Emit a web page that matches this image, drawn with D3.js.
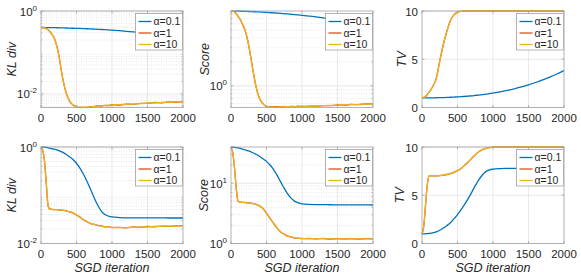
<!DOCTYPE html>
<html>
<head>
<meta charset="utf-8">
<script src="https://cdn.jsdelivr.net/npm/d3@7"></script>
<style>
  body { margin: 0; background: #fff; }
  svg { display: block; font-family: "Liberation Sans", Arial, sans-serif; }
</style>
</head>
<body>
<div class="js-vis"></div>
<script>
"use strict";

// SGD iteration sample points (shared by all series)
var iters = [0, 25, 50, 75, 100, 125, 150, 200, 250, 300, 350, 400, 450, 500, 550, 600, 650, 700,
  750, 800, 850, 900, 950, 1000, 1100, 1200, 1300, 1400, 1500, 1600, 1700, 1800, 1900, 2000];

// top row
var klTopA01 = [0.400, 0.400, 0.399, 0.399, 0.398, 0.397, 0.397, 0.395, 0.393, 0.391, 0.389, 0.387, 0.384,
  0.382, 0.379, 0.376, 0.373, 0.370, 0.366, 0.362, 0.358, 0.354, 0.349, 0.345, 0.335, 0.324, 0.312, 0.299,
  0.285, 0.270, 0.255, 0.240, 0.222, 0.205];
var klTopA1 = [0.400, 0.398, 0.390, 0.375, 0.355, 0.320, 0.285, 0.195, 0.088, 0.027, 0.0112, 0.0068, 0.0054,
  0.0049, 0.0047, 0.00475, 0.0047, 0.0049, 0.0049, 0.0052, 0.0051, 0.0053, 0.0052, 0.0055, 0.0054, 0.0057,
  0.0056, 0.0059, 0.0059, 0.0062, 0.0061, 0.0064, 0.0063, 0.0065];
var klTopA10 = [0.400, 0.398, 0.390, 0.375, 0.355, 0.320, 0.285, 0.195, 0.088, 0.027, 0.0112, 0.0068, 0.0054,
  0.0049, 0.0047, 0.0047, 0.0048, 0.0048, 0.0050, 0.0051, 0.0052, 0.0052, 0.0053, 0.0054, 0.0055, 0.0056,
  0.0057, 0.0058, 0.0060, 0.0061, 0.0062, 0.0063, 0.0064, 0.0064];

var scTopA01 = [8.66, 8.65, 8.64, 8.63, 8.62, 8.61, 8.60, 8.57, 8.54, 8.50, 8.46, 8.42, 8.37, 8.32, 8.27,
  8.21, 8.15, 8.09, 8.02, 7.95, 7.88, 7.81, 7.73, 7.65, 7.48, 7.30, 7.10, 6.88, 6.65, 6.40, 6.13, 5.85,
  5.55, 5.22];
var scTopA1 = [8.66, 8.60, 8.40, 8.00, 7.40, 6.90, 6.20, 4.90, 3.20, 1.75, 1.00, 0.70, 0.600, 0.555, 0.548,
  0.545, 0.550, 0.545, 0.553, 0.548, 0.554, 0.549, 0.556, 0.552, 0.558, 0.557, 0.567, 0.566, 0.576, 0.575,
  0.585, 0.583, 0.593, 0.597];
var scTopA10 = [8.66, 8.60, 8.40, 8.00, 7.40, 6.90, 6.20, 4.90, 3.20, 1.75, 1.00, 0.70, 0.600, 0.555, 0.545,
  0.540, 0.542, 0.545, 0.548, 0.550, 0.548, 0.550, 0.552, 0.550, 0.555, 0.560, 0.565, 0.570, 0.573, 0.578,
  0.582, 0.585, 0.590, 0.595];

var tvTopA01 = [1.00, 1.00, 1.00, 1.00, 1.00, 1.00, 1.00, 1.01, 1.02, 1.03, 1.04, 1.06, 1.08, 1.10, 1.12,
  1.15, 1.18, 1.21, 1.25, 1.29, 1.33, 1.38, 1.43, 1.49, 1.62, 1.77, 1.94, 2.13, 2.35, 2.59, 2.86, 3.15,
  3.47, 3.82];
var tvTopA10 = [1.00, 1.05, 1.15, 1.35, 1.60, 1.85, 2.15, 3.00, 4.80, 6.50, 7.90, 9.00, 9.60, 9.88, 9.97,
  10, 10, 10, 10, 10, 10, 10, 10, 10, 10, 10, 10, 10, 10, 10, 10, 10, 10, 10];
var tvTopA1 = tvTopA10;

// bottom row
var klBotA01 = [1.000, 0.998, 0.990, 0.980, 0.960, 0.945, 0.930, 0.890, 0.840, 0.780, 0.710, 0.630, 0.550,
  0.460, 0.360, 0.270, 0.190, 0.130, 0.088, 0.062, 0.047, 0.040, 0.037, 0.0355, 0.0345, 0.0340, 0.0340,
  0.0340, 0.0339, 0.0339, 0.0339, 0.0338, 0.0338, 0.0338];
var klBotA1 = [1.000, 0.850, 0.500, 0.170, 0.060, 0.052, 0.0512, 0.0503, 0.0501, 0.0488, 0.0478, 0.0452,
  0.0432, 0.0388, 0.0352, 0.0308, 0.0282, 0.0258, 0.0250, 0.0236, 0.0232, 0.0222, 0.0223, 0.0214, 0.0216,
  0.0211, 0.0220, 0.0215, 0.0225, 0.0222, 0.0230, 0.0226, 0.0232, 0.0234];
var klBotA10 = [1.000, 0.850, 0.500, 0.170, 0.060, 0.052, 0.0510, 0.0505, 0.0500, 0.0490, 0.0475, 0.0455,
  0.0430, 0.0390, 0.0350, 0.0310, 0.0280, 0.0260, 0.0248, 0.0238, 0.0230, 0.0224, 0.0220, 0.0216, 0.0213,
  0.0214, 0.0217, 0.0220, 0.0222, 0.0225, 0.0227, 0.0229, 0.0230, 0.0232];

var scBotA01 = [39.8, 39.6, 39.3, 38.9, 38.4, 37.8, 37.2, 35.8, 34.2, 32.3, 30.2, 28.0, 25.5, 23.0, 20.0,
  16.8, 13.5, 10.5, 8.2, 6.6, 5.6, 5.0, 4.7, 4.55, 4.45, 4.42, 4.40, 4.39, 4.38, 4.37, 4.37, 4.36, 4.36, 4.35];
var scBotA1 = [39.8, 32.0, 17.5, 8.0, 5.0, 4.85, 4.82, 4.78, 4.72, 4.62, 4.45, 4.20, 3.80, 3.20, 2.60,
  2.15, 1.80, 1.55, 1.43, 1.32, 1.29, 1.23, 1.23, 1.20, 1.21, 1.19, 1.21, 1.18, 1.20, 1.19, 1.20, 1.18, 1.20, 1.19];
var scBotA10 = [39.8, 32.0, 17.5, 8.0, 5.0, 4.85, 4.82, 4.78, 4.72, 4.62, 4.45, 4.20, 3.80, 3.20, 2.60,
  2.15, 1.80, 1.55, 1.42, 1.33, 1.28, 1.24, 1.22, 1.21, 1.20, 1.20, 1.20, 1.19, 1.19, 1.19, 1.19, 1.19, 1.19, 1.19];

var tvBotA01 = [1.00, 1.00, 1.01, 1.02, 1.04, 1.07, 1.10, 1.20, 1.37, 1.60, 1.85, 2.15, 2.55, 3.00, 3.50,
  4.05, 4.65, 5.30, 6.00, 6.60, 7.10, 7.45, 7.62, 7.70, 7.76, 7.78, 7.79, 7.80, 7.80, 7.80, 7.80, 7.80, 7.80, 7.80];
var tvBotA10 = [1.00, 1.80, 4.00, 6.10, 7.00, 7.02, 7.02, 7.02, 7.04, 7.08, 7.15, 7.25, 7.38, 7.55, 7.78,
  8.10, 8.45, 8.82, 9.20, 9.50, 9.72, 9.86, 9.94, 9.98, 10, 10, 10, 10, 10, 10, 10, 10, 10, 10];
var tvBotA1 = tvBotA10;

var xTicks = [0, 500, 1000, 1500, 2000];
var legendLabels = ["\u03b1=0.1", "\u03b1=1", "\u03b1=10"];
var colors = ["#0072BD", "#D95319", "#EDB120"];

var panels = [
  { col: 0, row: 0, ylab: "KL div", log: true, dom: [0.0047, 1], ticks: [0.01, 1], lab: 12, series: [klTopA01, klTopA1, klTopA10] },
  { col: 1, row: 0, ylab: "Score", log: true, dom: [0.536, 8.66], ticks: [1], lab: 205, series: [scTopA01, scTopA1, scTopA10] },
  { col: 2, row: 0, ylab: "TV", log: false, dom: [0, 10], ticks: [0, 5, 10], lab: 402, series: [tvTopA01, tvTopA1, tvTopA10] },
  { col: 0, row: 1, ylab: "KL div", log: true, dom: [0.01, 1], ticks: [0.01, 1], lab: 12, series: [klBotA01, klBotA1, klBotA10] },
  { col: 1, row: 1, ylab: "Score", log: true, dom: [1, 39.8], ticks: [1, 10], lab: 204, series: [scBotA01, scBotA1, scBotA10] },
  { col: 2, row: 1, ylab: "TV", log: false, dom: [0, 10], ticks: [0, 5, 10], lab: 400, series: [tvBotA01, tvBotA1, tvBotA10] }
];

var colX = [41, 231, 422], plotW = 142;
var rowY = [11, 147], plotH = 96.5;

var svg = d3.select(".js-vis").append("svg").attr("width", 581).attr("height", 275);

var axisCol = "#a0a0a0", textCol = "#262626", gridCol = "#e3e3e3";

panels.forEach(function (p) {
  var x0 = colX[p.col], y0 = rowY[p.row];
  var g = svg.append("g").attr("transform", "translate(" + x0 + "," + y0 + ")");

  var x = d3.scaleLinear().domain([0, 2000]).range([0, plotW]);
  var y = (p.log ? d3.scaleLog() : d3.scaleLinear()).domain(p.dom).range([plotH, 0]);

  // minor grid for log axes
  if (p.log) {
    var minors = [];
    var lo = Math.floor(Math.log10(p.dom[0])), hi = Math.ceil(Math.log10(p.dom[1]));
    for (var e = lo; e < hi; e++) {
      for (var k = 2; k <= 9; k++) {
        var v = k * Math.pow(10, e);
        if (v > p.dom[0] && v < p.dom[1]) minors.push(v);
      }
    }
    g.selectAll(".mg").data(minors).enter().append("line")
      .attr("x1", 0).attr("x2", plotW)
      .attr("y1", function (d) { return y(d); }).attr("y2", function (d) { return y(d); })
      .attr("stroke", "#dcdcdc").attr("stroke-width", 0.7).attr("stroke-dasharray", "1,1.5");
    g.selectAll(".mt").data(minors).enter().append("line")
      .attr("x1", 0).attr("x2", 1.5)
      .attr("y1", function (d) { return y(d); }).attr("y2", function (d) { return y(d); })
      .attr("stroke", axisCol).attr("stroke-width", 0.6);
    g.selectAll(".mt2").data(minors).enter().append("line")
      .attr("x1", plotW).attr("x2", plotW - 1.5)
      .attr("y1", function (d) { return y(d); }).attr("y2", function (d) { return y(d); })
      .attr("stroke", axisCol).attr("stroke-width", 0.6);
  }

  // major grid
  g.selectAll(".vg").data(xTicks.slice(1, -1)).enter().append("line")
    .attr("x1", function (d) { return x(d); }).attr("x2", function (d) { return x(d); })
    .attr("y1", 0).attr("y2", plotH)
    .attr("stroke", gridCol).attr("stroke-width", 0.8);
  g.selectAll(".hg").data(p.ticks).enter().append("line")
    .attr("x1", 0).attr("x2", plotW)
    .attr("y1", function (d) { return y(d); }).attr("y2", function (d) { return y(d); })
    .attr("stroke", gridCol).attr("stroke-width", 0.8);

  // series
  var line = d3.line()
    .x(function (d, i) { return x(iters[i]); })
    .y(function (d) { return y(d); })
    .curve(d3.curveMonotoneX);
  var clipId = "clip" + p.col + p.row;
  g.append("clipPath").attr("id", clipId).append("rect")
    .attr("x", -1).attr("y", -1).attr("width", plotW + 2).attr("height", plotH + 2);
  p.series.forEach(function (s, i) {
    g.append("path").datum(s)
      .attr("clip-path", "url(#" + clipId + ")")
      .attr("d", line)
      .attr("fill", "none")
      .attr("stroke", colors[i])
      .attr("stroke-width", 1.3);
  });

  // box
  g.append("rect").attr("width", plotW).attr("height", plotH)
    .attr("fill", "none").attr("stroke", axisCol).attr("stroke-width", 0.8);

  // tick marks
  xTicks.forEach(function (t) {
    g.append("line").attr("x1", x(t)).attr("x2", x(t)).attr("y1", plotH).attr("y2", plotH - 2.5)
      .attr("stroke", axisCol).attr("stroke-width", 0.8);
    g.append("line").attr("x1", x(t)).attr("x2", x(t)).attr("y1", 0).attr("y2", 2.5)
      .attr("stroke", axisCol).attr("stroke-width", 0.8);
  });
  p.ticks.forEach(function (t) {
    g.append("line").attr("x1", 0).attr("x2", 2.5).attr("y1", y(t)).attr("y2", y(t))
      .attr("stroke", axisCol).attr("stroke-width", 0.8);
    g.append("line").attr("x1", plotW).attr("x2", plotW - 2.5).attr("y1", y(t)).attr("y2", y(t))
      .attr("stroke", axisCol).attr("stroke-width", 0.8);
  });

  // x tick labels
  g.selectAll(".xl").data(xTicks).enter().append("text")
    .attr("x", function (d) { return x(d); })
    .attr("y", plotH + 14)
    .attr("text-anchor", "middle")
    .attr("font-size", 11.5)
    .attr("fill", textCol)
    .text(function (d) { return d; });

  // y tick labels
  p.ticks.forEach(function (t) {
    var tx = g.append("text")
      .attr("x", -4)
      .attr("y", y(t) + 4.5)
      .attr("text-anchor", "end")
      .attr("font-size", 11.5)
      .attr("fill", textCol);
    if (p.log) {
      var ex = Math.round(Math.log10(t));
      tx.append("tspan").text("10");
      tx.append("tspan").attr("dy", -5).attr("font-size", 8).text(ex);
    } else {
      tx.text(t);
    }
  });

  // y label
  svg.append("text")
    .attr("transform", "translate(" + p.lab + "," + (y0 + plotH / 2) + ") rotate(-90)")
    .attr("text-anchor", "middle")
    .attr("dy", "0.35em")
    .attr("font-size", 12.5)
    .attr("font-style", "italic")
    .attr("fill", textCol)
    .text(p.ylab);

  // x label on bottom row
  if (p.row === 1) {
    g.append("text")
      .attr("x", plotW / 2)
      .attr("y", plotH + 28.5)
      .attr("text-anchor", "middle")
      .attr("font-size", 12.5)
      .attr("font-style", "italic")
      .attr("fill", textCol)
      .text("SGD iteration");
  }

  // legend
  var lg = g.append("g").attr("transform", "translate(" + (plotW - 47.5) + ",2.5)");
  lg.append("rect").attr("width", 47).attr("height", 36.5)
    .attr("fill", "#fff").attr("stroke", axisCol).attr("stroke-width", 0.8);
  legendLabels.forEach(function (l, i) {
    var ly = 8 + i * 11.5;
    lg.append("line").attr("x1", 3).attr("x2", 16).attr("y1", ly).attr("y2", ly)
      .attr("stroke", colors[i]).attr("stroke-width", 1.3);
    lg.append("text").attr("x", 18).attr("y", ly + 3.8)
      .attr("font-size", 10.5).attr("fill", textCol).text(l);
  });
});
</script>
</body>
</html>
